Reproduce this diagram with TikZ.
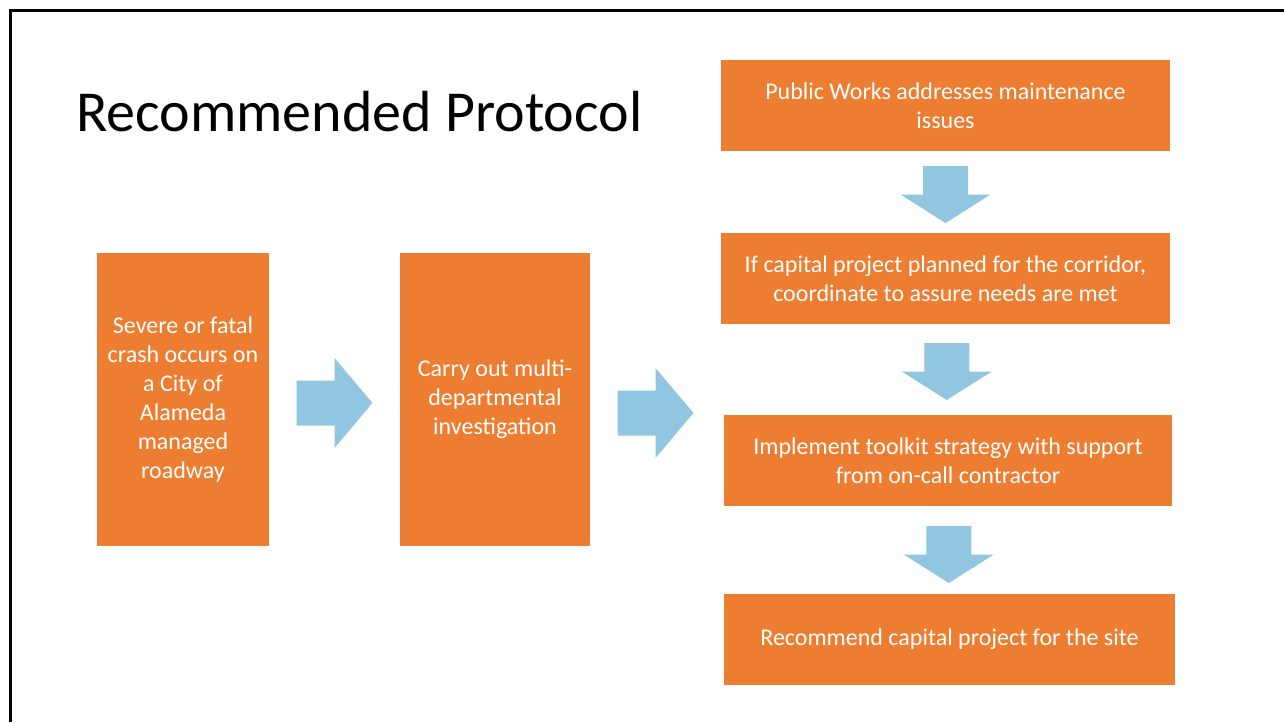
\documentclass[tikz,border=0pt]{standalone}
\usepackage{fontspec}
\setmainfont{Carlito}
\usetikzlibrary{positioning,calc}
\definecolor{stepOrange}{RGB}{237,125,49}
\definecolor{arrowBlue}{RGB}{145,198,224}

\begin{document}
\begin{tikzpicture}[x=0.75pt,y=-0.75pt,
    box/.style={fill=stepOrange,text=white,align=center,inner sep=0pt,
        font=\fontsize{18}{21.75}\selectfont},
    rarrow/.pic={\fill[arrowBlue] (-38,-22.5) -- (0,-22.5) -- (0,-45) -- (38,0)
        -- (0,45) -- (0,22.5) -- (-38,22.5) -- cycle;},
    darrow/.pic={\fill[arrowBlue] (-22.5,-28.5) -- (22.5,-28.5) -- (22.5,0) -- (45,0)
        -- (0,28.5) -- (-45,0) -- (-22.5,0) -- cycle;}]
    \useasboundingbox (0,0) rectangle (1284,722);

    % Cadre
    \draw[line width=2.25pt] (10.5,722) -- (10.5,10.5) -- (1284,10.5);

    % Titre
    \node[anchor=base west,inner sep=0pt,font=\fontsize{43.5}{52}\selectfont] (title)
        at (76,131) {Recommended Protocol};

    % Colonne gauche
    \node[box,minimum width=129pt,minimum height=219.75pt] (crash) at (183,399.5)
        {Severe or fatal\\crash occurs on\\a City of\\Alameda\\managed\\roadway};
    \node[box,minimum width=142.5pt,minimum height=219.75pt] (invest) at (495,399.5)
        {Carry out multi-\\departmental\\investigation};

    % Colonne droite
    \node[box,minimum width=336.75pt,minimum height=68.25pt] (maint) at (945.5,105.5)
        {Public Works addresses maintenance\\issues};
    \node[box,minimum width=336.75pt,minimum height=68.25pt] (capital) at (945.5,278.5)
        {If capital project planned for the corridor,\\coordinate to assure needs are met};
    \node[box,minimum width=336pt,minimum height=68.25pt] (toolkit) at (948,460.5)
        {Implement toolkit strategy with support\\from on-call contractor};
    \node[box,minimum width=338.25pt,minimum height=68.25pt] (recommend) at (949.5,639.5)
        {Recommend capital project for the site};

    % Fleches
    \pic at ($(crash.east)!0.5!(invest.west)+(0,3.5)$) {rarrow};
    \pic at ($(invest.east)!0.5!(invest.east -| maint.west)+(0,13.5)$) {rarrow};
    \pic at ($(maint.south)!0.5!(capital.north)+(0,2.5)$) {darrow};
    \pic at ($(capital.south)!0.5!(toolkit.north)+(0,2)$) {darrow};
    \pic at ($(toolkit.south)!0.5!(recommend.north)+(0,4.5)$) {darrow};
\end{tikzpicture}
\end{document}
